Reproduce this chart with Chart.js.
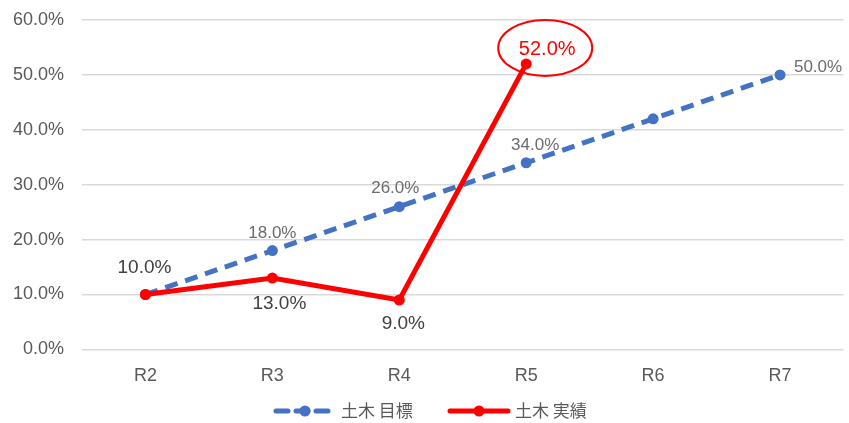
<!DOCTYPE html>
<html>
<head>
<meta charset="utf-8">
<script src="https://cdn.jsdelivr.net/npm/chart.js@4"></script>
<style>
  html, body { margin: 0; padding: 0; background: #fff; }
  #wrap { width: 849px; height: 423px; position: relative; }
</style>
</head>
<body>
<div id="wrap"><canvas id="chart"></canvas></div>
<script>
const categories = ['R2', 'R3', 'R4', 'R5', 'R6', 'R7'];
const targetName = '土木 目標';
const actualName = '土木 実績';
const targetValues = [10, 18, 26, 34, 42, 50];
const actualValues = [10, 13, 9, 52, null, null];
const targetLabelShown = [false, true, true, true, false, true];
const actualLabelShown = [true, true, true, true, false, false];

const numFont = '"Liberation Sans", Arial, "Noto Sans CJK JP", sans-serif';
const jpFont = '"Noto Sans CJK JP", "Liberation Sans", sans-serif';
const blue = '#4472C4';
const red = '#FF0000';

// where each value label sits relative to its point
const targetLabelOffset = [[0, 0], [0, -17], [-4, -18], [9, -17], [0, 0], [38, -8]];
const actualLabelOffset = [[-1, -27], [7, 26], [4, 24], [21, -14], [0, 0], [0, 0]];

const fmt = v => v.toFixed(1) + '%';

const valueLabels = {
  id: 'valueLabels',
  afterDatasetsDraw(chart) {
    const ctx = chart.ctx;
    ctx.save();
    ctx.textAlign = 'center';
    ctx.textBaseline = 'middle';

    const tMeta = chart.getDatasetMeta(0);
    tMeta.data.forEach((pt, i) => {
      if (!targetLabelShown[i]) return;
      ctx.font = '17px ' + numFont;
      ctx.fillStyle = '#6b6b6b';
      ctx.fillText(fmt(targetValues[i]), pt.x + targetLabelOffset[i][0], pt.y + targetLabelOffset[i][1]);
    });

    const aMeta = chart.getDatasetMeta(1);
    aMeta.data.forEach((pt, i) => {
      if (!actualLabelShown[i] || actualValues[i] == null) return;
      const x = pt.x + actualLabelOffset[i][0];
      const y = pt.y + actualLabelOffset[i][1];
      if (i === 3) {
        ctx.font = '20px ' + numFont;
        ctx.fillStyle = red;
        ctx.fillText(fmt(actualValues[i]), x, y);
        ctx.beginPath();
        ctx.ellipse(x - 2, y - 2, 47, 28, 0, 0, Math.PI * 2);
        ctx.strokeStyle = red;
        ctx.lineWidth = 2;
        ctx.stroke();
      } else {
        ctx.font = '19px ' + numFont;
        ctx.fillStyle = '#404040';
        ctx.fillText(fmt(actualValues[i]), x, y);
      }
    });
    ctx.restore();
  }
};

const lineLegend = {
  id: 'lineLegend',
  afterDraw(chart) {
    const ctx = chart.ctx;
    const y = 411;
    const items = [
      { x: 276, color: blue, dash: [12, 8], text: targetName },
      { x: 450, color: red, dash: [], text: actualName }
    ];
    ctx.save();
    items.forEach(it => {
      ctx.beginPath();
      ctx.setLineDash(it.dash);
      ctx.strokeStyle = it.color;
      ctx.lineWidth = 5;
      ctx.lineCap = 'round';
      ctx.moveTo(it.x, y);
      ctx.lineTo(it.x + 58, y);
      ctx.stroke();
      ctx.setLineDash([]);
      ctx.beginPath();
      ctx.fillStyle = it.color;
      ctx.arc(it.x + 29, y, 5.5, 0, Math.PI * 2);
      ctx.fill();
      ctx.font = '17px ' + jpFont;
      ctx.fillStyle = '#595959';
      ctx.textAlign = 'left';
      ctx.textBaseline = 'middle';
      ctx.fillText(it.text, it.x + 65, y);
    });
    ctx.restore();
  }
};

new Chart(document.getElementById('chart'), {
  type: 'line',
  data: {
    labels: categories,
    datasets: [
      {
        label: targetName,
        data: targetValues,
        borderColor: blue,
        backgroundColor: blue,
        borderWidth: 5,
        borderDash: [13, 8],
        pointRadius: 5.5,
        pointBorderWidth: 0,
        order: 2
      },
      {
        label: actualName,
        data: actualValues,
        borderColor: red,
        backgroundColor: red,
        borderWidth: 5,
        pointRadius: 5.5,
        pointBorderWidth: 0,
        order: 1
      }
    ]
  },
  options: {
    responsive: true,
    maintainAspectRatio: false,
    animation: false,
    layout: { padding: { top: 20, right: 3, bottom: 28, left: 0 } },
    plugins: {
      legend: { display: false },
      tooltip: { enabled: false }
    },
    scales: {
      x: {
        offset: true,
        grid: { display: false },
        border: { display: false },
        ticks: { color: '#595959', font: { family: numFont, size: 18 }, padding: 8 }
      },
      y: {
        min: 0,
        max: 60,
        afterFit(scale) {
          scale.width = 82;
          scale.paddingTop = 0;
          scale.paddingBottom = 0;
        },
        grid: { color: '#d9d9d9', lineWidth: 1.5, drawTicks: false },
        border: { display: false },
        ticks: {
          stepSize: 10,
          color: '#595959',
          padding: 18,
          font: { family: numFont, size: 18 },
          callback: v => fmt(v)
        }
      }
    }
  },
  plugins: [valueLabels, lineLegend]
});
</script>
</body>
</html>
